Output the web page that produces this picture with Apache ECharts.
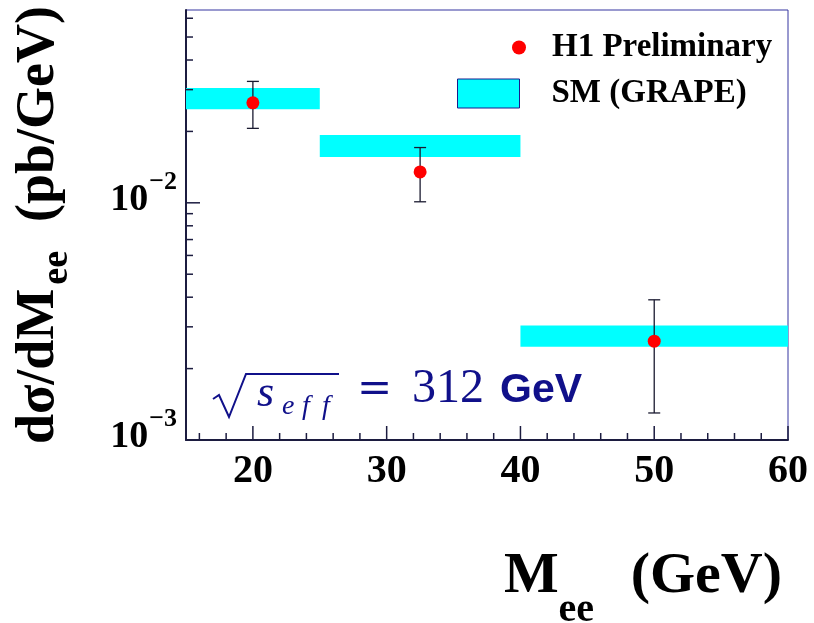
<!DOCTYPE html>
<html><head><meta charset="utf-8">
<script src="https://cdn.jsdelivr.net/npm/echarts@6/dist/echarts.min.js"></script>
<style>html,body{margin:0;padding:0;background:#fff}#c{width:814px;height:623px}</style>
</head><body><div id="c"></div>
<script>
// ---- data ----
const binLow = [15, 25, 40];
const binHigh = [25, 40, 60];
const smLow = [0.0248, 0.0156, 0.00247];
const smHigh = [0.0305, 0.0193, 0.00304];
const h1X = [20, 32.5, 50];
const h1Y = [0.0264, 0.0135, 0.00261];
const h1ErrLow = [0.0206, 0.0101, 0.0013];
const h1ErrHigh = [0.0325, 0.0171, 0.0039];
const xLabels = [20, 30, 40, 50, 60];
const xMajorTicks = [20, 30, 40, 50, 60];
const xMinorTicks = [16, 18, 22, 24, 26, 28, 32, 34, 36, 38, 42, 44, 46, 48, 52, 54, 56, 58];
const yMajorTicks = [0.001, 0.01];
const yMinorTicks = [0.002, 0.003, 0.004, 0.005, 0.006, 0.007, 0.008, 0.009, 0.02, 0.03, 0.04, 0.05, 0.06];
const xMin = 15, xMax = 60, yMin = 0.001, yMax = 0.065;

const navy = '#10108a';
const axisCol = '#1c1c40';
const serif = '"Liberation Serif", "Times New Roman", serif';

const chart = echarts.init(document.getElementById('c'), null, {renderer: 'canvas'});

const option = {
  animation: false,
  backgroundColor: '#ffffff',
  grid: {left: 186, right: 26, top: 10, bottom: 183, show: true, borderColor: '#3535a0', borderWidth: 1, containLabel: false, outerBoundsMode: 'none'},
  legend: [
    {
      data: [{name: 'H1 Preliminary', icon: 'circle', itemStyle: {color: '#ff0000'}}],
      left: 507, top: 26, itemWidth: 14, itemHeight: 14, selectedMode: false,
      textStyle: {fontFamily: serif, fontWeight: 'bold', fontSize: 33, color: '#000', padding: [0, 0, 0, 21]}
    },
    {
      data: [{name: 'SM (GRAPE)', icon: 'rect', itemStyle: {color: '#00ffff', borderColor: '#1a1a8c', borderWidth: 1}}],
      left: 452, top: 72, itemWidth: 62, itemHeight: 29, selectedMode: false,
      textStyle: {fontFamily: serif, fontWeight: 'bold', fontSize: 33, color: '#000', padding: [0, 0, 0, 27]}
    }
  ],
  xAxis: {
    type: 'value', min: xMin, max: xMax, interval: 5,
    axisLine: {show: true, lineStyle: {color: axisCol, width: 2}},
    axisTick: {show: false},
    splitLine: {show: false},
    axisLabel: {
      margin: 12, fontFamily: serif, fontWeight: 'bold', fontSize: 40, color: '#000',
      formatter: v => xLabels.indexOf(v) >= 0 ? String(v) : ''
    },
    name: '{m|M}{sub|ee}{m| (GeV)}',
    nameLocation: 'end', nameGap: -6,
    nameTextStyle: {
      align: 'right', verticalAlign: 'top', padding: [108, 0, 0, 0],
      rich: {
        m: {fontFamily: serif, fontWeight: 'bold', fontSize: 58, color: '#000', lineHeight: 60, verticalAlign: 'top'},
        sub: {fontFamily: serif, fontWeight: 'bold', fontSize: 40, color: '#000', lineHeight: 40, verticalAlign: 'top', padding: [43, 22, 0, 0]}
      }
    }
  },
  yAxis: {
    type: 'log', logBase: 10, min: yMin, max: yMax,
    axisLine: {show: true, lineStyle: {color: axisCol, width: 2}},
    axisTick: {show: false},
    splitLine: {show: false},
    axisLabel: {
      margin: 9, showMaxLabel: false, padding: [0, 0, 18, 0],
      formatter: v => {
        const e = Math.log10(v);
        if (Math.abs(e - Math.round(e)) > 1e-6) return '';
        return '{b|10}{s|\u2212' + (-Math.round(e)) + '}';
      },
      rich: {
        b: {fontFamily: serif, fontWeight: 'bold', fontSize: 38, color: '#000', lineHeight: 50, verticalAlign: 'bottom'},
        s: {fontFamily: serif, fontWeight: 'bold', fontSize: 26, color: '#000', lineHeight: 26, verticalAlign: 'top', padding: [0, 0, 0, 1]}
      }
    },
    name: '{m|d\u03c3/dM}{sub|ee}{m|  (pb/GeV)}',
    nameLocation: 'middle', nameRotate: 90, nameGap: 116,
    nameTextStyle: {
      rich: {
        m: {fontFamily: serif, fontWeight: 'bold', fontSize: 54, color: '#000', lineHeight: 58, verticalAlign: 'top'},
        sub: {fontFamily: serif, fontWeight: 'bold', fontSize: 38, color: '#000', lineHeight: 40, verticalAlign: 'top', padding: [26, 2, 0, 4]}
      }
    }
  },
  series: [
    {
      name: 'SM (GRAPE)', type: 'custom', clip: false,
      data: binLow.map((b, i) => [b, binHigh[i], smLow[i], smHigh[i]]),
      encode: {x: [0, 1], y: [2, 3]},
      itemStyle: {color: '#00ffff'},
      renderItem: (params, api) => {
        const p0 = api.coord([api.value(0), api.value(3)]);
        const p1 = api.coord([api.value(1), api.value(2)]);
        return {type: 'rect', shape: {x: p0[0], y: p0[1], width: p1[0] - p0[0], height: p1[1] - p0[1]}, style: {fill: '#00ffff'}};
      },
      z: 2
    },
    {
      name: 'err', type: 'custom', clip: false,
      data: h1X.map((x, i) => [x, h1ErrLow[i], h1ErrHigh[i]]),
      encode: {x: 0, y: [1, 2]},
      renderItem: (params, api) => {
        const lo = api.coord([api.value(0), api.value(1)]);
        const hi = api.coord([api.value(0), api.value(2)]);
        const w = 6;
        const st = {stroke: '#1a1a30', lineWidth: 1.3};
        return {type: 'group', children: [
          {type: 'line', shape: {x1: lo[0], y1: lo[1], x2: hi[0], y2: hi[1]}, style: st},
          {type: 'line', shape: {x1: lo[0] - w, y1: lo[1], x2: lo[0] + w, y2: lo[1]}, style: st},
          {type: 'line', shape: {x1: hi[0] - w, y1: hi[1], x2: hi[0] + w, y2: hi[1]}, style: st}
        ]};
      },
      z: 3
    },
    {
      name: 'H1 Preliminary', type: 'scatter',
      data: h1X.map((x, i) => [x, h1Y[i]]),
      symbol: 'circle', symbolSize: 13,
      itemStyle: {color: '#ff0000', opacity: 1},
      z: 4
    },
    {
      name: 'xticks', type: 'custom', clip: false, silent: true,
      data: xMajorTicks.map(v => [v, yMin, 1]).concat(xMinorTicks.map(v => [v, yMin, 0])),
      encode: {x: 0, y: 1},
      renderItem: (params, api) => {
        const p = api.coord([api.value(0), api.value(1)]);
        const len = api.value(2) ? 14 : 7;
        return {type: 'line', shape: {x1: p[0], y1: p[1], x2: p[0], y2: p[1] - len}, style: {stroke: axisCol, lineWidth: 1.5}};
      },
      z: 5
    },
    {
      name: 'yticks', type: 'custom', clip: false, silent: true,
      data: yMajorTicks.map(v => [xMin, v, 1]).concat(yMinorTicks.map(v => [xMin, v, 0])),
      encode: {x: 0, y: 1},
      renderItem: (params, api) => {
        const p = api.coord([api.value(0), api.value(1)]);
        const len = api.value(2) ? 14 : 7;
        return {type: 'line', shape: {x1: p[0], y1: p[1], x2: p[0] + len, y2: p[1]}, style: {stroke: axisCol, lineWidth: 1.5}};
      },
      z: 5
    }
  ],
  graphic: [
    {type: 'polyline', z: 10, shape: {points: [[213, 399], [219, 395], [229, 417], [246, 374], [339, 374]]}, style: {stroke: navy, lineWidth: 2, fill: null}},
    {type: 'text', z: 10, style: {text: 's', x: 257, y: 416, font: 'italic 44px "Liberation Serif"', fill: navy, verticalAlign: 'bottom'}},
    {type: 'text', z: 10, style: {text: 'e', x: 282, y: 421, font: 'italic 28px "Liberation Serif"', fill: navy, verticalAlign: 'bottom'}},
    {type: 'text', z: 10, style: {text: 'f', x: 302, y: 421, font: 'italic 28px "Liberation Serif"', fill: navy, verticalAlign: 'bottom'}},
    {type: 'text', z: 10, style: {text: 'f', x: 322, y: 421, font: 'italic 28px "Liberation Serif"', fill: navy, verticalAlign: 'bottom'}},
    {type: 'text', z: 10, style: {text: '=', x: 357, y: 412, font: '42px "DejaVu Serif"', fill: navy, verticalAlign: 'bottom'}},
    {type: 'text', z: 10, style: {text: '312', x: 412, y: 413, font: '48px "Liberation Serif"', fill: navy, verticalAlign: 'bottom'}},
    {type: 'text', z: 10, style: {text: 'GeV', x: 500, y: 411, font: 'bold 41px "Liberation Sans"', fill: navy, verticalAlign: 'bottom'}}
  ]
};
chart.setOption(option);
</script>
</body></html>
